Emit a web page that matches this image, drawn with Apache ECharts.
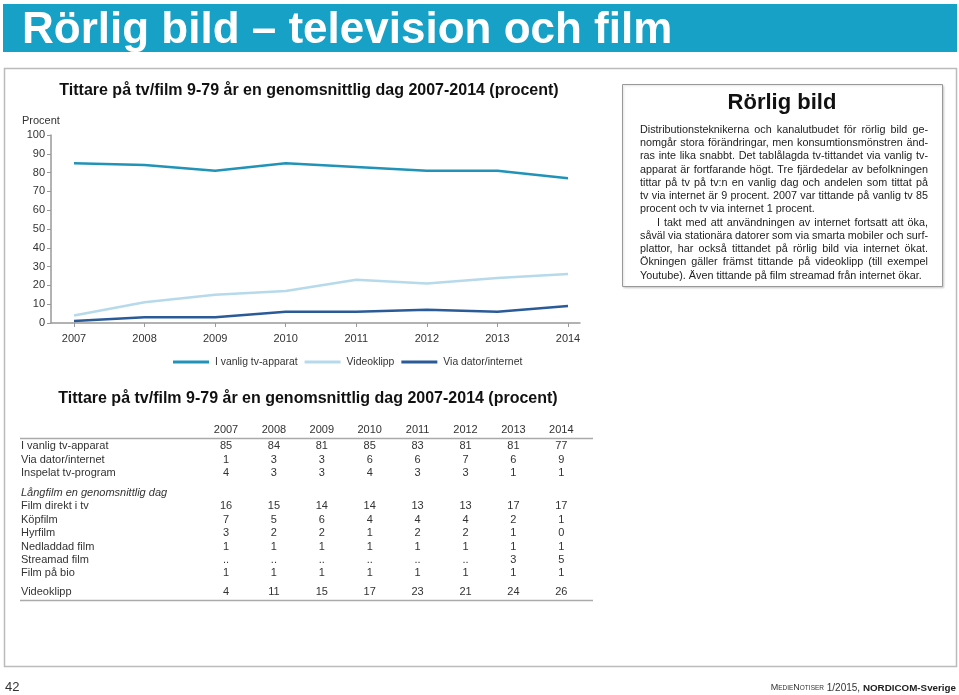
<!DOCTYPE html>
<html><head><meta charset="utf-8">
<script src="https://cdn.jsdelivr.net/npm/echarts@6/dist/echarts.min.js"></script>
<style>html,body{margin:0;padding:0;background:#fff}#c{width:959px;height:695px}</style>
</head><body><div id="c"></div>
<script>
// ---- data ----
const years = [2007, 2008, 2009, 2010, 2011, 2012, 2013, 2014];
const tvApparat = [85, 84, 81, 85, 83, 81, 81, 77];
const videoklipp = [4, 11, 15, 17, 23, 21, 24, 26];
const viaDator = [1, 3, 3, 6, 6, 7, 6, 9];
const seriesNames = ['I vanlig tv-apparat', 'Videoklipp', 'Via dator/internet'];

const inspelat = [4, 3, 3, 4, 3, 3, 1, 1];
const filmDirekt = [16, 15, 14, 14, 13, 13, 17, 17];
const kopfilm = [7, 5, 6, 4, 4, 4, 2, 1];
const hyrfilm = [3, 2, 2, 1, 2, 2, 1, 0];
const nedladdad = [1, 1, 1, 1, 1, 1, 1, 1];
const streamad = ['..', '..', '..', '..', '..', '..', 3, 5];
const filmBio = [1, 1, 1, 1, 1, 1, 1, 1];

const pageTitle = 'Rörlig bild – television och film';
const chartTitle = 'Tittare på tv/film 9-79 år en genomsnittlig dag 2007-2014 (procent)';
const boxTitle = 'Rörlig bild';
const boxLines = [
  'Distributionsteknikerna och kanalutbudet för rörlig bild ge-',
  'nomgår stora förändringar, men konsumtionsmönstren änd-',
  'ras inte lika snabbt. Det tablålagda tv-tittandet via vanlig tv-',
  'apparat är fortfarande högt. Tre fjärdedelar av befolkningen',
  'tittar på tv på tv:n en vanlig dag och andelen som tittat på',
  'tv via internet är 9 procent. 2007 var tittande på vanlig tv 85',
  'procent och tv via internet 1 procent.',
  'I takt med att användningen av internet fortsatt att öka,',
  'såväl via stationära datorer som via smarta mobiler och surf-',
  'plattor, har också tittandet på rörlig bild via internet ökat.',
  'Ökningen gäller främst tittande på videoklipp (till exempel',
  'Youtube). Även tittande på film streamad från internet ökar.'
];

// ---- layout helpers ----
const FF = '"Liberation Sans", Arial, Helvetica, sans-serif';
const g = [];
function txt(x, y, text, size, opt) {
  opt = opt || {};
  g.push({type: 'text', x: x, y: y, z: 10, style: {
    text: text, fill: opt.fill || '#222',
    font: (opt.italic ? 'italic ' : '') + (opt.bold ? 'bold ' : '') + size + 'px ' + (opt.family || FF),
    align: opt.align || 'left', verticalAlign: 'middle'}});
}
function hline(x1, x2, y, color, w) {
  g.push({type: 'line', shape: {x1: x1, y1: y, x2: x2, y2: y}, style: {stroke: color, lineWidth: w}});
}

// banner
g.push({type: 'rect', shape: {x: 3, y: 4, width: 954, height: 48}, style: {fill: '#17a1c7'}});
txt(22, 31, pageTitle, 44, {bold: true, fill: '#fff'});
// frame
g.push({type: 'rect', shape: {x: 4.5, y: 68.5, width: 952, height: 598}, style: {fill: 'none', stroke: '#bbb', lineWidth: 1.5}});

// chart title + unit
txt(309, 91, chartTitle, 16, {bold: true, align: 'center', fill: '#111'});
txt(22, 121, 'Procent', 11, {fill: '#333'});

// text box
g.push({type: 'rect', shape: {x: 622.5, y: 84.5, width: 320, height: 202}, style: {fill: '#fff', stroke: '#999', lineWidth: 1, shadowColor: 'rgba(0,0,0,0.15)', shadowBlur: 2, shadowOffsetX: 1, shadowOffsetY: 1}});
txt(782, 103, boxTitle, 22, {bold: true, align: 'center', fill: '#111'});
const mctx = document.createElement('canvas').getContext('2d');
const bodySize = 10.8;
mctx.font = bodySize + 'px ' + FF;
const paraEnds = [6, 11];
const paraStarts = [0, 7];
boxLines.forEach(function (line, i) {
  const y = 130 + i * 13.25;
  const xs = paraStarts.indexOf(i) > 0 ? 657 : 640;
  const xe = 928;
  const words = line.split(' ');
  const widths = words.map(function (w) { return mctx.measureText(w).width; });
  const total = widths.reduce(function (a, b) { return a + b; }, 0);
  let gap = mctx.measureText(' ').width;
  if (paraEnds.indexOf(i) < 0 && words.length > 1) gap = Math.max(1.5, (xe - xs - total) / (words.length - 1));
  let x = xs;
  words.forEach(function (w, k) {
    txt(x, y, w, bodySize, {fill: '#222'});
    x += widths[k] + gap;
  });
});

// table
txt(308, 399, chartTitle, 16, {bold: true, align: 'center', fill: '#111'});
const colX = years.map(function (_, i) { return 226 + i * 47.9; });
years.forEach(function (yr, i) { txt(colX[i], 430, String(yr), 11, {align: 'center', fill: '#333'}); });
hline(20, 593, 438.5, '#aaa', 1.5);
const tableRows = [
  [seriesNames[0], tvApparat, 446],
  [seriesNames[2], viaDator, 460],
  ['Inspelat tv-program', inspelat, 473],
  ['Långfilm en genomsnittlig dag', null, 493],
  ['Film direkt i tv', filmDirekt, 506],
  ['Köpfilm', kopfilm, 520],
  ['Hyrfilm', hyrfilm, 533],
  ['Nedladdad film', nedladdad, 547],
  ['Streamad film', streamad, 560],
  ['Film på bio', filmBio, 573],
  [seriesNames[1], videoklipp, 592]
];
tableRows.forEach(function (r) {
  txt(21, r[2], r[0], 11, {italic: !r[1], fill: '#333'});
  if (r[1]) r[1].forEach(function (v, i) { txt(colX[i], r[2], String(v), 11, {align: 'center', fill: '#333'}); });
});
hline(20, 593, 600.5, '#aaa', 1.5);

// footer
txt(5, 687, '42', 13, {fill: '#333'});
g.push({type: 'text', x: 956, y: 688, style: {
  text: '{a|M}{b|EDIE}{a|N}{b|OTISER}{c| 1/2015, }{d|NORDICOM-Sverige}',
  align: 'right', verticalAlign: 'middle',
  rich: {
    a: {font: '9px ' + FF, fill: '#333'},
    b: {font: '6.5px ' + FF, fill: '#333'},
    c: {font: '10px ' + FF, fill: '#333'},
    d: {font: 'bold 9.8px ' + FF, fill: '#222'}
  }}});

// ---- chart ----
const colors = ['#2193b7', '#b6daeb', '#2a5b97'];
const chart = echarts.init(document.getElementById('c'), null, {renderer: 'canvas'});
chart.setOption({
  animation: false,
  textStyle: {fontFamily: FF},
  grid: {left: 51, width: 529, top: 135, height: 188},
  legend: {
    left: 173, top: 357, padding: 0, itemWidth: 36, itemHeight: 3, itemGap: 7, icon: 'rect',
    textStyle: {fontSize: 10.4, color: '#333', fontFamily: FF, padding: [0, 0, 0, 1]},
    data: seriesNames
  },
  xAxis: {
    type: 'value', min: 2006.674, max: 2014.17,
    splitLine: {show: false},
    axisLine: {lineStyle: {color: '#999', width: 1.5}},
    axisTick: {show: true, length: 4, lineStyle: {color: '#999'}, customValues: years},
    axisLabel: {color: '#333', fontSize: 11, margin: 10, customValues: years,
      formatter: function (v) { return String(v); }}
  },
  yAxis: {
    type: 'value', min: 0, max: 100, interval: 10,
    splitLine: {show: false},
    axisLine: {show: true, lineStyle: {color: '#999', width: 1.5}},
    axisTick: {show: true, length: 4, lineStyle: {color: '#999'}},
    axisLabel: {color: '#333', fontSize: 11, margin: 6}
  },
  series: [
    {name: seriesNames[0], type: 'line', data: years.map(function (y, i) { return [y, tvApparat[i]]; }), showSymbol: false, symbol: 'none', lineStyle: {color: colors[0], width: 2.5}, itemStyle: {color: colors[0]}},
    {name: seriesNames[1], type: 'line', data: years.map(function (y, i) { return [y, videoklipp[i]]; }), showSymbol: false, symbol: 'none', lineStyle: {color: colors[1], width: 2.5}, itemStyle: {color: colors[1]}},
    {name: seriesNames[2], type: 'line', data: years.map(function (y, i) { return [y, viaDator[i]]; }), showSymbol: false, symbol: 'none', lineStyle: {color: colors[2], width: 2.5}, itemStyle: {color: colors[2]}}
  ],
  graphic: g
});
</script></body></html>
